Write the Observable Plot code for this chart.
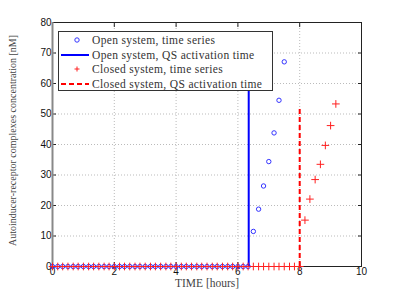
<!DOCTYPE html>
<html>
<head>
<meta charset="utf-8">
<script src="https://cdn.jsdelivr.net/npm/d3@7"></script>
<script src="https://cdn.jsdelivr.net/npm/@observablehq/plot@0.6"></script>
<style>
  html, body { margin: 0; padding: 0; background: #fff; }
  #wrap { position: relative; width: 399px; height: 300px; }
  #legend {
    position: absolute; left: 58px; top: 31px; width: 215px; height: 60px;
    background: #fff; border: 1px solid #333; box-sizing: border-box;
    font-family: "Liberation Serif", serif; font-size: 11.5px; color: #333;
    letter-spacing: 0.35px;
  }
  .row { position: absolute; left: 0; height: 14px; display: flex; align-items: center; white-space: nowrap; }
  .row svg { width: 32px; height: 14px; flex: none; }
  .row span { margin-left: 1px; }
</style>
</head>
<body>
<div id="wrap"></div>
<script>
// Time samples (hours), 10-minute steps
const openTime = [0,0.17,0.33,0.5,0.67,0.83,1,1.17,1.33,1.5,1.67,1.83,2,2.17,2.33,2.5,2.67,2.83,3,3.17,3.33,3.5,3.67,3.83,4,4.17,4.33,4.5,4.67,4.83,5,5.17,5.33,5.5,5.67,5.83,6,6.17,6.33,6.5,6.67,6.83,7,7.17,7.33,7.5];
const openValue = [0,0,0,0,0,0,0,0,0,0,0,0,0,0,0,0,0,0,0,0,0,0,0,0,0,0,0,0,0,0,0,0,0,0,0,0,0,0,0,11.5,18.8,26.4,34.4,43.8,54.5,67.1];
const closedTime = [0,0.17,0.33,0.5,0.67,0.83,1,1.17,1.33,1.5,1.67,1.83,2,2.17,2.33,2.5,2.67,2.83,3,3.17,3.33,3.5,3.67,3.83,4,4.17,4.33,4.5,4.67,4.83,5,5.17,5.33,5.5,5.67,5.83,6,6.17,6.33,6.5,6.67,6.83,7,7.17,7.33,7.5,7.67,7.83,8,8.17,8.33,8.5,8.67,8.83,9,9.17];
const closedValue = [0,0,0,0,0,0,0,0,0,0,0,0,0,0,0,0,0,0,0,0,0,0,0,0,0,0,0,0,0,0,0,0,0,0,0,0,0,0,0,0,0,0,0,0,0,0,0,0,0,15.2,22.1,28.5,33.5,39.7,46.2,53.3];
const openQS = 6.35;      // open system QS activation time
const openQSTop = 67.1;
const closedQS = 8.0;     // closed system QS activation time
const closedQSTop = 52.3;
const xTicks = [0,2,4,6,8,10];
const yTicks = [0,10,20,30,40,50,60,70,80];
const legendLabels = ["Open system, time series","Open system, QS activation time","Closed system, time series","Closed system, QS activation time"];

const openData = openTime.map((t, i) => ({t, v: openValue[i]}));
const closedData = closedTime.map((t, i) => ({t, v: closedValue[i]}));
const blank = () => "";

const chart = Plot.plot({
  width: 399, height: 300,
  marginLeft: 52, marginRight: 38, marginTop: 22, marginBottom: 34,
  style: {fontFamily: "'Liberation Sans', Arial, sans-serif", fontSize: "10px", color: "#222", background: "#fff"},
  x: {domain: [0, 10], ticks: xTicks},
  y: {domain: [0, 80], ticks: yTicks},
  marks: [
    Plot.gridX(xTicks, {stroke: "#bbb", strokeOpacity: 1, strokeDasharray: "1,2"}),
    Plot.gridY(yTicks, {stroke: "#bbb", strokeOpacity: 1, strokeDasharray: "1,2"}),
    Plot.axisX(xTicks, {anchor: "bottom", tickSize: -4, tickPadding: 5, label: null, fill: "#111"}),
    Plot.axisX(xTicks, {anchor: "top", tickSize: -4, tickFormat: blank, label: null}),
    Plot.axisY(yTicks, {anchor: "left", tickSize: -4, tickPadding: 5, label: null, fill: "#111"}),
    Plot.axisY(yTicks, {anchor: "right", tickSize: -4, tickFormat: blank, label: null}),
    Plot.frame({stroke: "#222", strokeWidth: 1}),
    Plot.ruleX([0], {stroke: "#888", strokeWidth: 2}),
    Plot.dot(openData, {x: "t", y: "v", r: 2.2, stroke: "#3333ff", strokeWidth: 1, fill: "none"}),
    Plot.ruleX([openQS], {y1: 0, y2: openQSTop, stroke: "#0000ff", strokeWidth: 2}),
    Plot.dot(closedData, {x: "t", y: "v", symbol: "plus", r: 2.6, stroke: "#ff2020", strokeWidth: 1}),
    Plot.ruleX([closedQS], {y1: 0, y2: closedQSTop, stroke: "#ff0000", strokeWidth: 2, strokeDasharray: "5,3"}),
    Plot.text(["Autoinducer-receptor complexes concentration [nM]"], {frameAnchor: "left", textAnchor: "middle", dx: -40, dy: -4, rotate: -90, fontFamily: "'Liberation Serif', serif", fontSize: 10, fill: "#444", letterSpacing: 1.2}),
    Plot.text(["TIME [hours]"], {frameAnchor: "bottom", dy: 20, fontFamily: "'Liberation Serif', serif", fontSize: 11.5, fill: "#444", letterSpacing: 0.5})
  ]
});
document.getElementById("wrap").appendChild(chart);

// Legend
const leg = document.createElement("div");
leg.id = "legend";
const sym = [
  '<circle cx="18" cy="7" r="2.2" fill="none" stroke="#3333ff" stroke-width="1"/>',
  '<line x1="2" x2="30" y1="7" y2="7" stroke="#0000ff" stroke-width="2"/>',
  '<path d="M15.5 7h5M18 4.5v5" stroke="#ff2020" stroke-width="1"/>',
  '<line x1="2" x2="30" y1="7" y2="7" stroke="#ff0000" stroke-width="2" stroke-dasharray="5,3"/>'
];
const tops = [1, 15.5, 30, 44.5];
legendLabels.forEach((lab, i) => {
  const r = document.createElement("div");
  r.className = "row";
  r.style.top = tops[i] + "px";
  r.innerHTML = `<svg viewBox="0 0 32 14">${sym[i]}</svg><span>${lab}</span>`;
  leg.appendChild(r);
});
document.getElementById("wrap").appendChild(leg);
</script>
</body>
</html>
